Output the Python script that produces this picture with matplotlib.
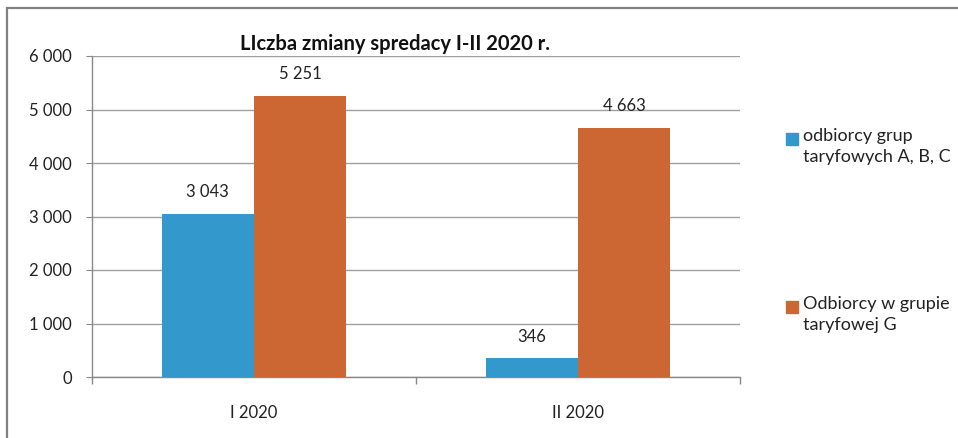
import matplotlib
matplotlib.use('Agg')
import matplotlib.pyplot as plt
from matplotlib.patches import Rectangle
import numpy as np

# dane
kategorie = ['I 2020', 'II 2020']
abc = [3043, 346]  # odbiorcy grup taryfowych A, B, C
g = [5251, 4663]   # odbiorcy w grupie taryfowej G
serie_nazwy = ['odbiorcy grup\ntaryfowych A, B, C', 'Odbiorcy w grupie\ntaryfowej G']
kolory = ['#3399cc', '#cc6633']
yticki = [0, 1000, 2000, 3000, 4000, 5000, 6000]

def fmt(v):
    return '{:,}'.format(int(v)).replace(',', ' ')

plt.rcParams['font.family'] = ['Lato', 'DejaVu Sans']
W, H = 958, 438
fig = plt.figure(figsize=(W / 100, H / 100), dpi=100)
ax = fig.add_axes([92 / W, 1 - 377 / H, (740 - 92) / W, (377 - 56) / H])

x = np.arange(len(kategorie))
w = 0.285
b1 = ax.bar(x - w / 2, abc, w, color=kolory[0], zorder=3)
b2 = ax.bar(x + w / 2, g, w, color=kolory[1], zorder=3)

# etykiety nad słupkami
for bars in (b1, b2):
    for r in bars:
        ax.annotate(fmt(r.get_height()), (r.get_x() + r.get_width() / 2, r.get_height()),
                    xytext=(0, 10), textcoords='offset points', ha='center', va='bottom',
                    fontsize=12, color='#222222')

ax.set_xlim(-0.5, len(kategorie) - 0.5)
ax.set_ylim(0, 6000)
ax.set_yticks(yticki)
ax.set_yticklabels([fmt(v) for v in yticki])
ax.set_xticks(x)
ax.set_xticklabels(kategorie)
ax.set_xticks(np.arange(-0.5, len(kategorie)), minor=True)
ax.tick_params(axis='x', which='major', length=0, pad=20, labelsize=12, labelcolor='#222222')
ax.tick_params(axis='x', which='minor', length=5, direction='out', color='#888888', width=1)
ax.tick_params(axis='y', length=4.5, pad=10, labelsize=12, labelcolor='#222222', color='#888888')
ax.grid(axis='y', color='#a0a0a0', lw=1, zorder=0)
for s in ('top', 'right'):
    ax.spines[s].set_visible(False)
for s in ('left', 'bottom'):
    ax.spines[s].set_color('#888888')
    ax.spines[s].set_linewidth(1)

fig.text(395 / W, 1 - 44 / H, 'LIczba zmiany spredacy I-II 2020 r.', ha='center', va='center',
         fontsize=14.5, fontweight='bold', color='#111111')

# legenda (ręcznie, kwadrat przy pierwszej linii)
leg_y = [139, 307]
for nazwa, kol, yy in zip(serie_nazwy, kolory, leg_y):
    fig.patches.append(Rectangle((786 / W, 1 - (yy + 6) / H), 12 / W, 12 / H,
                                 transform=fig.transFigure, color=kol))
    fig.text(803 / W, 1 - (yy - 11) / H, nazwa, ha='left', va='top', fontsize=13,
             color='#222222', linespacing=1.4)

# ramka wykresu
fig.patches.append(Rectangle((7 / W, -0.1), 1.2, 1.1 - 8 / H, transform=fig.transFigure,
                             fill=False, edgecolor='#808080', lw=1.6))

fig.savefig('out.png', dpi=100)
